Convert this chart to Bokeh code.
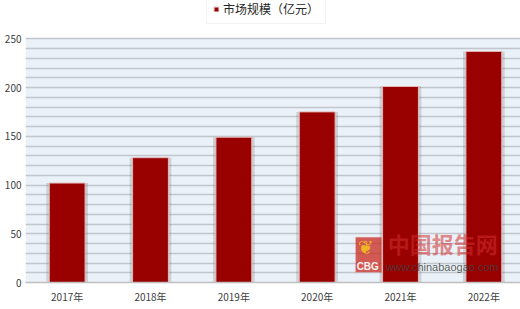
from bokeh.plotting import figure
from bokeh.models import (Range1d, FixedTicker, Legend, LegendItem,
                          Label, BoxAnnotation, ColumnDataSource)
from bokeh.embed import file_html
from bokeh.resources import INLINE

categories = ["2017年", "2018年", "2019年", "2020年", "2021年", "2022年"]
values = [102, 128, 149, 175, 201, 237]
series_name = "市场规模（亿元）"
y_ticks = [0, 50, 100, 150, 200, 250]
y_max = 250
grid_step = 10

FONT = "Noto Sans CJK SC"
idx = list(range(len(categories)))
src = ColumnDataSource(dict(x=idx, top=values, cat=categories))

FRAME_H = 282
PX_PER_UNIT = 0.975
p = figure(width=520, height=309, output_backend="svg", toolbar_location=None,
           x_range=Range1d(-0.5, 5.44), y_range=Range1d(0, FRAME_H / PX_PER_UNIT),
           min_border_left=25, min_border_right=0, min_border_top=0, min_border_bottom=27,
           background_fill_color="white", border_fill_color="white", outline_line_color=None)

# light blue plotting area up to the top of the value range
p.add_layout(BoxAnnotation(top=y_max, fill_color="#EAF1F8", fill_alpha=1.0,
                           line_color=None, level="image"))

# grid
p.xgrid.grid_line_color = None
p.ygrid.ticker = FixedTicker(ticks=list(range(0, y_max + 1, grid_step)))
p.ygrid.grid_line_color = "#C2C5CA"
p.ygrid.grid_line_width = 1.7
p.ygrid.level = "underlay"

# shadow behind bars
p.vbar(x="x", top="top", width=0.50, bottom=0, source=src, fill_color="#7f7f7f",
       fill_alpha=0.28, line_color=None)
bars = p.vbar(x="x", top="top", width=0.43, bottom=0, source=src, fill_color="#990000",
              line_color="#E6B8B8", line_width=1)

# axes
p.xaxis.ticker = FixedTicker(ticks=idx)
p.xaxis.major_label_overrides = {i: c for i, c in zip(idx, categories)}
p.xaxis.axis_line_color = "#BFBFBF"
p.xaxis.axis_line_width = 1.5
p.xaxis.major_tick_line_color = None
p.xaxis.minor_tick_line_color = None
p.xaxis.major_tick_out = 0
p.xaxis.major_tick_in = 0
p.xaxis.minor_tick_out = 0
p.xaxis.major_label_standoff = 6
p.xaxis.major_label_text_font = FONT
p.xaxis.major_label_text_font_size = "10px"
p.xaxis.major_label_text_color = "#404040"

p.yaxis.ticker = FixedTicker(ticks=y_ticks)
p.yaxis.axis_line_color = None
p.yaxis.major_tick_line_color = None
p.yaxis.minor_tick_line_color = None
p.yaxis.major_tick_out = 0
p.yaxis.major_tick_in = 0
p.yaxis.minor_tick_out = 0
p.yaxis.major_label_standoff = 4
p.yaxis.major_label_text_font = FONT
p.yaxis.major_label_text_font_size = "10px"
p.yaxis.major_label_text_color = "#404040"

# legend
legend = Legend(items=[LegendItem(label=series_name, renderers=[bars])],
                location=(181, FRAME_H - 24), orientation="horizontal",
                label_text_font=FONT, label_text_font_size="12px", label_text_color="#262626",
                glyph_width=6, glyph_height=6, label_height=14, label_standoff=4,
                padding=5, margin=0, spacing=0,
                background_fill_color="white", background_fill_alpha=1.0,
                border_line_color="#E6E6E6", border_line_width=1)
legend.padding = 6
p.add_layout(legend, "center")

# watermark
def xd(px):
    return (px - 25) / 83.3 - 0.5

def yd(py):
    return (282.3 - py) / PX_PER_UNIT

p.add_layout(BoxAnnotation(left=xd(355), right=xd(381), top=yd(237), bottom=yd(272),
                           fill_color="#C8281E", fill_alpha=0.75,
                           line_color="#E8A0A0", line_width=1))
p.add_layout(Label(x=xd(357), y=yd(258), text="❦", text_color="#F2C21B", text_alpha=0.9,
                   text_font_size="19px", text_font="DejaVu Sans"))
p.add_layout(Label(x=xd(356), y=yd(272), text="CBG", text_color="white", text_alpha=0.95,
                   text_font_size="10px", text_font_style="bold", text_font="Liberation Sans"))
p.add_layout(Label(x=xd(387), y=yd(259), text="中国报告网", text_color="#D22E2E", text_alpha=0.55,
                   text_font_size="22px", text_font_style="bold", text_font=FONT))
p.add_layout(Label(x=xd(385), y=yd(273), text="www.chinabaogao.com", text_color="#404040",
                   text_alpha=0.85, text_font_size="11px", text_font="Liberation Sans"))

open("out.html", "w").write(file_html(p, INLINE))
